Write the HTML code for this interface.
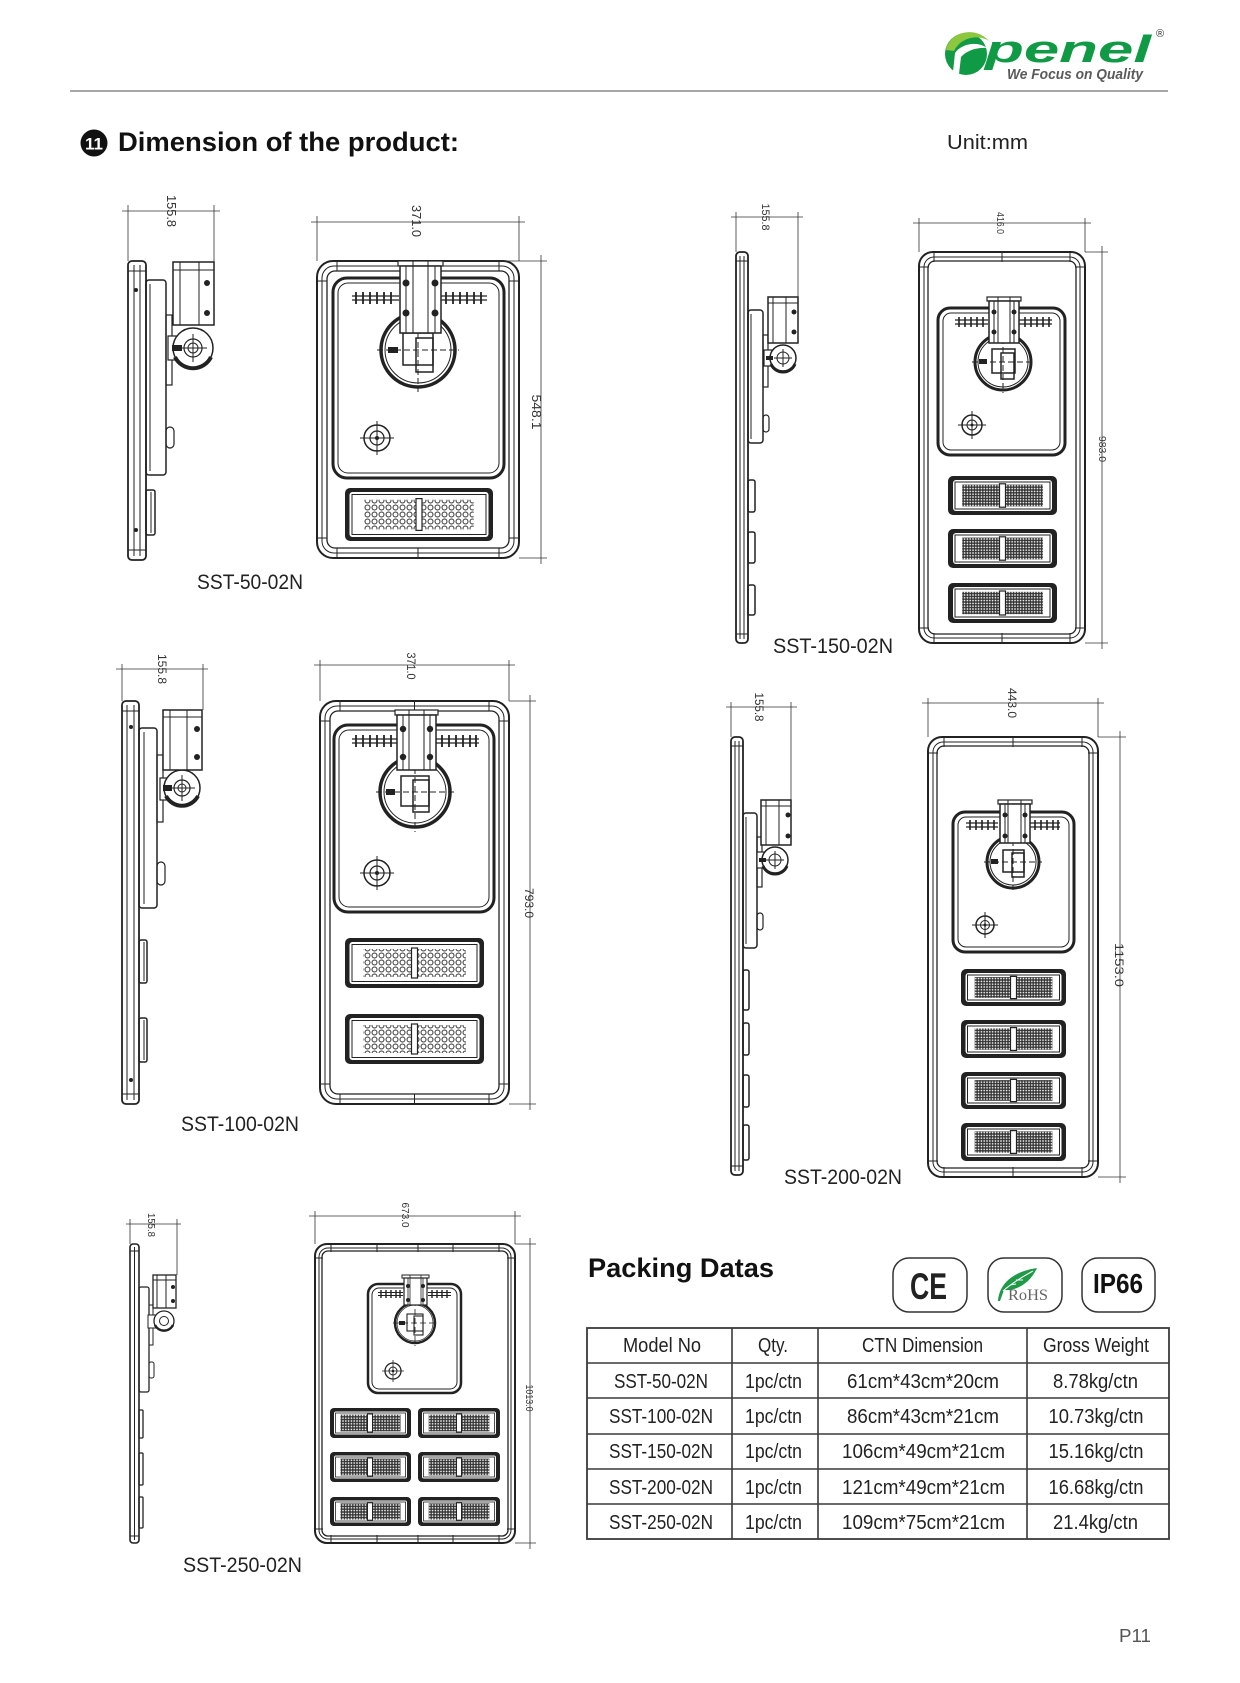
<!DOCTYPE html>
<html><head><meta charset="utf-8"><style>
html,body{margin:0;padding:0;background:#fff}
svg{display:block}
.s{fill:none;stroke:#222;stroke-width:1.5}
.w{fill:#fff;stroke:#222;stroke-width:1.5}
.th{fill:none;stroke:#222;stroke-width:1}
.d{fill:none;stroke:#333;stroke-width:0.8}
.f{fill:#222}
.dash{stroke-dasharray:6 3}
.tx{font-family:"Liberation Sans",Arial,sans-serif}
.dm{font-family:"Liberation Sans",Arial,sans-serif;fill:#333}
.lb{font-family:"Liberation Sans",Arial,sans-serif;font-size:21px;fill:#222}
.tb{font-family:"Liberation Sans",Arial,sans-serif;font-size:20px;fill:#222}
</style></head><body>
<svg width="1240" height="1683" viewBox="0 0 1240 1683" xmlns="http://www.w3.org/2000/svg">
<defs>
<pattern id="dL" width="7" height="7" patternUnits="userSpaceOnUse"><circle cx="3.5" cy="3.5" r="2.5" fill="none" stroke="#333" stroke-width="1"/></pattern>
<pattern id="dS" width="2.8" height="2.8" patternUnits="userSpaceOnUse"><rect width="2.8" height="2.8" fill="#333"/><circle cx="1.4" cy="1.4" r="0.85" fill="#fff"/></pattern>
</defs>
<rect width="1240" height="1683" fill="#fff"/>

<!-- LOGO -->
<circle cx="966" cy="54" r="21" fill="#119a45"/>
<path d="M946,50 C949,32 975,25 989,41 C978,34 961,37 954,51 Z" fill="#8dc63f"/>
<path d="M955,53 C962,43 978,41 987,48 C978,47 967,50 961,57 L959,74 L953,72 Z" fill="#fff"/>
<text class="tx" x="985" y="62" textLength="166" lengthAdjust="spacingAndGlyphs" style="font-size:38px;font-weight:bold;font-style:italic;fill:#119a45">penel</text>
<text class="tx" x="1007" y="79" textLength="136" lengthAdjust="spacingAndGlyphs" style="font-size:15px;font-weight:bold;font-style:italic;fill:#5a5a5a">We Focus on Quality</text>
<text class="tx" x="1156" y="37" style="font-size:11px;fill:#333">®</text>
<line x1="70" y1="91" x2="1168" y2="91" stroke="#8a8a8a" stroke-width="1.5"/>

<!-- TITLE -->
<circle cx="94" cy="143" r="13.5" fill="#111"/>
<text class="tx" x="94" y="149.5" text-anchor="middle" style="font-size:17px;font-weight:bold;fill:#fff">11</text>
<text class="tx" x="118" y="151" textLength="341" lengthAdjust="spacingAndGlyphs" style="font-size:27px;font-weight:bold;fill:#111">Dimension of the product:</text>
<text class="tx" x="947" y="149" textLength="81" lengthAdjust="spacingAndGlyphs" style="font-size:20px;fill:#222">Unit:mm</text>

<!-- ================= A: SST-50 ================= -->
<rect x="128" y="261" width="18" height="299" rx="4" class="s" style="stroke-width:1.8"/>
<path class="th" d="M134,265v291M140,265v291M128,271h18M128,550h18"/>
<circle cx="136" cy="290" r="2" class="f"/><circle cx="136" cy="530" r="2" class="f"/>
<rect x="146" y="280" width="20" height="195" rx="3" class="s"/>
<path class="th" d="M150,284v187"/>
<rect x="166" y="315" width="6" height="70" class="s" style="stroke-width:1.2"/>
<rect x="166" y="427" width="8" height="21" rx="4" class="s" style="stroke-width:1.2"/>
<rect x="146" y="490" width="9" height="45" rx="2" class="s"/><path class="th" d="M151,492v41"/>
<rect x="168" y="336" width="22" height="24" class="w" style="stroke-width:1.2"/>
<circle cx="193" cy="348" r="20" class="w"/>
<path d="M175,357 A20 20 0 0 0 211,357" class="s" style="stroke-width:4"/>
<circle cx="193" cy="348" r="9" class="s" style="stroke-width:1.2"/><circle cx="193" cy="348" r="5" class="th"/>
<path class="th" d="M193,334v28M179,348h28"/>
<rect x="172" y="345" width="10" height="6" class="f"/>
<rect x="173" y="262" width="41" height="63" class="w"/>
<path class="th" d="M173,270h41M180,262v63M199,262v63"/>
<circle cx="207" cy="283" r="3" class="f"/><circle cx="207" cy="313" r="3" class="f"/>
<path class="d" d="M122,211h98M128,205v56M214,205v57"/>
<text class="dm" transform="translate(167,211) rotate(90)" text-anchor="middle" textLength="32" lengthAdjust="spacingAndGlyphs" style="font-size:13px">155.8</text>
<rect x="317" y="261" width="202" height="297" rx="16" class="s" style="stroke-width:2"/>
<rect x="322" y="266" width="192" height="287" rx="12" class="th"/>
<rect x="327" y="271" width="182" height="277" rx="8" class="s" style="stroke-width:1.3"/>
<path class="th" d="M337,261v10M499,261v10M418,261v10M337,548v10M499,548v10M418,548v10M317,281h10M509,281h10M317,538h10M509,538h10"/>
<rect x="333" y="278" width="171" height="200" rx="14" class="s" style="stroke-width:3"/>
<rect x="338" y="283" width="161" height="190" rx="10" class="th"/>
<path class="s" style="stroke-width:1.3" d="M352,296h47M352,300h47M440,296h47M440,300h47"/>
<path class="s" style="stroke-width:1.8" d="M356,292v12M363,292v12M370,292v12M377,292v12M384,292v12M391,292v12M446,292v12M453,292v12M460,292v12M467,292v12M474,292v12M481,292v12"/>
<circle cx="418" cy="350" r="37" class="w" style="stroke-width:3.5"/>
<circle cx="418" cy="350" r="33" class="th"/>
<path class="th dash" d="M377,350h82M418,306v86"/>
<rect x="403" y="333" width="30" height="32" class="s"/>
<rect x="416" y="338" width="17" height="34" class="s"/>
<rect x="388" y="347" width="10" height="6" class="f"/>
<rect x="398" y="261" width="45" height="5" class="w" style="stroke-width:1.2"/>
<rect x="400" y="266" width="41" height="67" class="w"/>
<path class="th" d="M406,266v67M435,266v67"/>
<rect x="413" y="261" width="15" height="72" class="th"/>
<circle cx="406" cy="283" r="3.5" class="f"/><circle cx="435" cy="283" r="3.5" class="f"/><circle cx="406" cy="313" r="3.5" class="f"/><circle cx="435" cy="313" r="3.5" class="f"/>
<circle cx="377" cy="438" r="13" class="s"/><circle cx="377" cy="438" r="7" class="s" style="stroke-width:1.2"/><circle cx="377" cy="438" r="2" class="f"/>
<path class="th" d="M360,438h34M377,421v34"/>
<rect x="345" y="488" width="148" height="53" rx="5" class="f"/>
<rect x="349.5" y="492" width="139" height="45" rx="3" fill="#fff"/>
<rect x="352" y="494.5" width="134" height="40" class="th"/>
<rect x="364.2" y="499.7" width="109.5" height="29.7" fill="url(#dL)"/>
<rect x="416" y="498.6" width="6" height="31.8" class="w" style="stroke-width:1.2"/>
<path class="d" d="M311,222h214M317,216v45M519,216v45M541,255v309M443,261h104M519,558h28"/>
<text class="dm" transform="translate(412,221) rotate(90)" text-anchor="middle" textLength="32" lengthAdjust="spacingAndGlyphs" style="font-size:13px">371.0</text>
<text class="dm" transform="translate(532,412) rotate(90)" text-anchor="middle" textLength="35" lengthAdjust="spacingAndGlyphs" style="font-size:13px">548.1</text>
<text class="lb" x="197" y="589" textLength="106" lengthAdjust="spacingAndGlyphs">SST-50-02N</text>

<!-- ================= B: SST-150 ================= -->
<rect x="736" y="252" width="12" height="391" rx="4" class="s" style="stroke-width:1.8"/>
<path class="th" d="M740,256v383M744,256v383M736,261h12M736,634h12"/>
<rect x="748" y="310" width="15" height="133" rx="3" class="s"/>
<path class="th" d="M751,314v125"/>
<rect x="763" y="335" width="5" height="52" class="s" style="stroke-width:1.2"/>
<rect x="763" y="415" width="6" height="17" rx="3" class="s" style="stroke-width:1.2"/>
<rect x="748" y="480" width="7" height="32" rx="2" class="s"/>
<rect x="748" y="532" width="7" height="31" rx="2" class="s"/>
<rect x="748" y="585" width="7" height="30" rx="2" class="s"/>
<rect x="764" y="350" width="16" height="16" class="w" style="stroke-width:1.2"/>
<circle cx="783" cy="358" r="13" class="w"/>
<path d="M771,364 A13 13 0 0 0 795,364" class="s" style="stroke-width:3"/>
<circle cx="783" cy="358" r="6" class="th"/><path class="th" d="M783,349v18M774,358h18"/>
<rect x="766" y="356" width="7" height="4" class="f"/>
<rect x="768" y="297" width="30" height="46" class="w"/>
<path class="th" d="M768,303h30M773,297v46M786,297v46"/>
<circle cx="794" cy="312" r="2.5" class="f"/><circle cx="794" cy="332" r="2.5" class="f"/>
<path class="d" d="M731,217h72M736,212v40M798,212v85"/>
<text class="dm" transform="translate(762,217) rotate(90)" text-anchor="middle" textLength="27" lengthAdjust="spacingAndGlyphs" style="font-size:11px">155.8</text>
<rect x="919" y="252" width="166" height="391" rx="14" class="s" style="stroke-width:2"/>
<rect x="924" y="257" width="156" height="381" rx="10" class="th"/>
<rect x="928" y="261" width="148" height="373" rx="7" class="s" style="stroke-width:1.3"/>
<path class="th" d="M934,252v10M1070,252v10M1002,252v10M934,633v10M1070,633v10M1002,633v10M919,267h10M1075,267h10M919,628h10M1075,628h10"/>
<rect x="938" y="308" width="127" height="147" rx="12" class="s" style="stroke-width:3"/>
<rect x="943" y="313" width="117" height="137" rx="8" class="th"/>
<path class="s" style="stroke-width:1.2" d="M955,320h33M955,324h33M1019,320h33M1019,324h33"/>
<path class="s" style="stroke-width:1.6" d="M959,317v10M965,317v10M971,317v10M977,317v10M983,317v10M1025,317v10M1031,317v10M1037,317v10M1043,317v10M1049,317v10"/>
<circle cx="1003" cy="362" r="28" class="w" style="stroke-width:3"/>
<circle cx="1003" cy="362" r="25" class="th"/>
<path class="th dash" d="M972,362h62M1003,329v64"/>
<rect x="992" y="349" width="23" height="24" class="s"/>
<rect x="1001" y="353" width="13" height="26" class="s"/>
<rect x="979" y="359" width="8" height="5" class="f"/>
<rect x="987" y="297" width="34" height="4" class="w" style="stroke-width:1.2"/>
<rect x="989" y="301" width="30" height="42" class="w"/>
<path class="th" d="M994,301v42M1014,301v42"/>
<rect x="998" y="297" width="12" height="46" class="th"/>
<circle cx="994" cy="312" r="2.5" class="f"/><circle cx="1014" cy="312" r="2.5" class="f"/><circle cx="994" cy="332" r="2.5" class="f"/><circle cx="1014" cy="332" r="2.5" class="f"/>
<circle cx="972" cy="425" r="10" class="s"/><circle cx="972" cy="425" r="5" class="th"/><circle cx="972" cy="425" r="1.5" class="f"/>
<path class="th" d="M958,425h28M972,411v28"/>
<g>
<rect x="948" y="476" width="109" height="39" rx="5" class="f"/><rect x="953" y="480" width="99" height="31" rx="3" fill="#fff"/><rect x="955" y="482" width="95" height="27" class="th"/><rect x="962.2" y="484.6" width="80.7" height="21.8" fill="url(#dS)"/><rect x="999.5" y="483.8" width="6" height="23.4" class="w" style="stroke-width:1.2"/>
<rect x="948" y="529" width="109" height="39" rx="5" class="f"/><rect x="953" y="533" width="99" height="31" rx="3" fill="#fff"/><rect x="955" y="535" width="95" height="27" class="th"/><rect x="962.2" y="537.6" width="80.7" height="21.8" fill="url(#dS)"/><rect x="999.5" y="536.8" width="6" height="23.4" class="w" style="stroke-width:1.2"/>
<rect x="948" y="583" width="109" height="40" rx="5" class="f"/><rect x="953" y="587" width="99" height="32" rx="3" fill="#fff"/><rect x="955" y="589" width="95" height="28" class="th"/><rect x="962.2" y="591.8" width="80.7" height="22.4" fill="url(#dS)"/><rect x="999.5" y="591" width="6" height="24" class="w" style="stroke-width:1.2"/>
</g>
<path class="d" d="M913,223h178M919,218v34M1085,218v34M1102,246v403M1085,252h23M1085,643h23"/>
<text class="dm" transform="translate(997,223) rotate(90)" text-anchor="middle" textLength="22" lengthAdjust="spacingAndGlyphs" style="font-size:10px">416.0</text>
<text class="dm" transform="translate(1099,449) rotate(90)" text-anchor="middle" textLength="26" lengthAdjust="spacingAndGlyphs" style="font-size:10px">983.0</text>
<text class="lb" x="773" y="653" textLength="120" lengthAdjust="spacingAndGlyphs">SST-150-02N</text>

<!-- ================= C: SST-100 ================= -->
<rect x="122" y="701" width="17" height="403" rx="4" class="s" style="stroke-width:1.8"/>
<path class="th" d="M127,705v395M134,705v395M122,711h17M122,1094h17"/>
<circle cx="131" cy="727" r="2" class="f"/><circle cx="131" cy="1080" r="2" class="f"/>
<rect x="139" y="728" width="18" height="180" rx="3" class="s"/>
<path class="th" d="M144,732v172"/>
<rect x="157" y="755" width="6" height="67" class="s" style="stroke-width:1.2"/>
<rect x="157" y="862" width="8" height="23" rx="4" class="s" style="stroke-width:1.2"/>
<rect x="139" y="940" width="8" height="43" rx="2" class="s"/><path class="th" d="M144,942v39"/>
<rect x="139" y="1018" width="8" height="44" rx="2" class="s"/><path class="th" d="M144,1020v40"/>
<rect x="160" y="778" width="22" height="22" class="w" style="stroke-width:1.2"/>
<circle cx="182" cy="788" r="18" class="w"/>
<path d="M166,796 A18 18 0 0 0 198,796" class="s" style="stroke-width:4"/>
<circle cx="182" cy="788" r="8" class="s" style="stroke-width:1.2"/><circle cx="182" cy="788" r="4" class="th"/>
<path class="th" d="M182,775v26M169,788h26"/>
<rect x="163" y="785" width="9" height="6" class="f"/>
<rect x="163" y="710" width="39" height="60" class="w"/>
<path class="th" d="M163,717h39M170,710v60M187,710v60"/>
<circle cx="197" cy="729" r="3" class="f"/><circle cx="197" cy="757" r="3" class="f"/>
<path class="d" d="M116,669h92M122,664v37M203,664v46"/>
<text class="dm" transform="translate(158,669) rotate(90)" text-anchor="middle" textLength="30" lengthAdjust="spacingAndGlyphs" style="font-size:12px">155.8</text>
<rect x="320" y="701" width="189" height="403" rx="16" class="s" style="stroke-width:2"/>
<rect x="325" y="706" width="179" height="393" rx="12" class="th"/>
<rect x="330" y="711" width="169" height="383" rx="8" class="s" style="stroke-width:1.3"/>
<path class="th" d="M340,701v10M489,701v10M414.5,701v10M340,1094v10M489,1094v10M414.5,1094v10M320,721h10M499,721h10M320,1084h10M499,1084h10"/>
<rect x="334" y="725" width="160" height="187" rx="14" class="s" style="stroke-width:3"/>
<rect x="339" y="730" width="150" height="177" rx="10" class="th"/>
<path class="s" style="stroke-width:1.3" d="M352,739h45M352,743h45M435,739h44M435,743h44"/>
<path class="s" style="stroke-width:1.8" d="M356,735v12M363,735v12M370,735v12M377,735v12M384,735v12M391,735v12M442,735v12M449,735v12M456,735v12M463,735v12M470,735v12M476,735v12"/>
<circle cx="415" cy="792" r="35" class="w" style="stroke-width:3.5"/>
<circle cx="415" cy="792" r="31" class="th"/>
<path class="th dash" d="M376,792h78M415,750v82"/>
<rect x="401" y="776" width="28" height="30" class="s"/>
<rect x="413" y="780" width="16" height="32" class="s"/>
<rect x="386" y="789" width="9" height="6" class="f"/>
<rect x="395" y="710" width="43" height="5" class="w" style="stroke-width:1.2"/>
<rect x="397" y="715" width="39" height="55" class="w"/>
<path class="th" d="M403,715v55M430,715v55"/>
<rect x="409" y="710" width="15" height="60" class="th"/>
<circle cx="403" cy="729" r="3.2" class="f"/><circle cx="430" cy="729" r="3.2" class="f"/><circle cx="403" cy="757" r="3.2" class="f"/><circle cx="430" cy="757" r="3.2" class="f"/>
<circle cx="377" cy="873" r="13" class="s"/><circle cx="377" cy="873" r="7" class="s" style="stroke-width:1.2"/><circle cx="377" cy="873" r="2" class="f"/>
<path class="th" d="M360,873h34M377,856v34"/>
<rect x="345" y="938" width="139" height="50" rx="5" class="f"/><rect x="349.5" y="942" width="130" height="42" rx="3" fill="#fff"/><rect x="352" y="944.5" width="125" height="37" class="th"/><rect x="363.1" y="949" width="102.9" height="28" fill="url(#dL)"/><rect x="411.5" y="948" width="6" height="30" class="w" style="stroke-width:1.2"/>
<rect x="345" y="1014" width="139" height="50" rx="5" class="f"/><rect x="349.5" y="1018" width="130" height="42" rx="3" fill="#fff"/><rect x="352" y="1020.5" width="125" height="37" class="th"/><rect x="363.1" y="1025" width="102.9" height="28" fill="url(#dL)"/><rect x="411.5" y="1024" width="6" height="30" class="w" style="stroke-width:1.2"/>
<path class="d" d="M314,665h201M320,660v41M509,660v41M530,695v415M509,701h27M509,1104h27"/>
<text class="dm" transform="translate(407,666) rotate(90)" text-anchor="middle" textLength="27" lengthAdjust="spacingAndGlyphs" style="font-size:12px">371.0</text>
<text class="dm" transform="translate(525,903) rotate(90)" text-anchor="middle" textLength="30" lengthAdjust="spacingAndGlyphs" style="font-size:12px">793.0</text>
<text class="lb" x="181" y="1131" textLength="118" lengthAdjust="spacingAndGlyphs">SST-100-02N</text>

<!-- ================= D: SST-200 ================= -->
<rect x="731" y="737" width="12" height="438" rx="4" class="s" style="stroke-width:1.8"/>
<path class="th" d="M735,741v430M739,741v430M731,746h12M731,1166h12"/>
<rect x="743" y="813" width="14" height="135" rx="3" class="s"/>
<path class="th" d="M746,817v127"/>
<rect x="757" y="837" width="5" height="50" class="s" style="stroke-width:1.2"/>
<rect x="757" y="913" width="6" height="17" rx="3" class="s" style="stroke-width:1.2"/>
<rect x="743" y="970" width="6" height="40" rx="2" class="s"/>
<rect x="743" y="1023" width="6" height="32" rx="2" class="s"/>
<rect x="743" y="1075" width="6" height="32" rx="2" class="s"/>
<rect x="743" y="1125" width="6" height="35" rx="2" class="s"/>
<rect x="757" y="852" width="15" height="16" class="w" style="stroke-width:1.2"/>
<circle cx="775" cy="860" r="13" class="w"/>
<path d="M763,866 A13 13 0 0 0 787,866" class="s" style="stroke-width:3"/>
<circle cx="775" cy="860" r="6" class="th"/><path class="th" d="M775,851v18M766,860h18"/>
<rect x="759" y="858" width="7" height="4" class="f"/>
<rect x="761" y="800" width="30" height="45" class="w"/>
<path class="th" d="M761,806h30M766,800v45M779,800v45"/>
<circle cx="788" cy="815" r="2.5" class="f"/><circle cx="788" cy="836" r="2.5" class="f"/>
<path class="d" d="M726,707h71M731,702v35M791,702v98"/>
<text class="dm" transform="translate(755,707) rotate(90)" text-anchor="middle" textLength="29" lengthAdjust="spacingAndGlyphs" style="font-size:12px">155.8</text>
<rect x="928" y="737" width="170" height="440" rx="14" class="s" style="stroke-width:2"/>
<rect x="933" y="742" width="160" height="430" rx="10" class="th"/>
<rect x="937" y="746" width="152" height="422" rx="7" class="s" style="stroke-width:1.3"/>
<path class="th" d="M944,737v10M1082,737v10M1013,737v10M944,1167v10M1082,1167v10M1013,1167v10M928,753h10M1088,753h10M928,1161h10M1088,1161h10"/>
<rect x="953" y="812" width="121" height="140" rx="12" class="s" style="stroke-width:3"/>
<rect x="958" y="817" width="111" height="130" rx="8" class="th"/>
<path class="s" style="stroke-width:1.2" d="M966,823h32M966,827h32M1030,823h30M1030,827h30"/>
<path class="s" style="stroke-width:1.6" d="M970,820v10M976,820v10M982,820v10M988,820v10M994,820v10M1035,820v10M1041,820v10M1047,820v10M1053,820v10M1058,820v10"/>
<circle cx="1013" cy="862" r="26" class="w" style="stroke-width:3"/>
<circle cx="1013" cy="862" r="23" class="th"/>
<path class="th dash" d="M984,862h58M1013,831v59"/>
<rect x="1003" y="850" width="21" height="22" class="s"/>
<rect x="1012" y="853" width="12" height="24" class="s"/>
<rect x="991" y="859" width="7" height="5" class="f"/>
<rect x="998" y="800" width="34" height="4" class="w" style="stroke-width:1.2"/>
<rect x="1000" y="804" width="30" height="39" class="w"/>
<path class="th" d="M1005,804v39M1025,804v39"/>
<rect x="1008" y="800" width="13" height="43" class="th"/>
<circle cx="1005" cy="815" r="2.5" class="f"/><circle cx="1025" cy="815" r="2.5" class="f"/><circle cx="1005" cy="836" r="2.5" class="f"/><circle cx="1025" cy="836" r="2.5" class="f"/>
<circle cx="985" cy="925" r="9" class="s"/><circle cx="985" cy="925" r="4.5" class="th"/><circle cx="985" cy="925" r="1.5" class="f"/>
<path class="th" d="M972,925h26M985,912v26"/>
<rect x="961" y="969" width="105" height="37" rx="5" class="f"/><rect x="965.5" y="973" width="96" height="29" rx="3" fill="#fff"/><rect x="967.5" y="975" width="92" height="25" class="th"/><rect x="974.7" y="977.1" width="77.7" height="20.7" fill="url(#dS)"/><rect x="1010.5" y="976.4" width="6" height="22.2" class="w" style="stroke-width:1.2"/>
<rect x="961" y="1020" width="105" height="38" rx="5" class="f"/><rect x="965.5" y="1024" width="96" height="30" rx="3" fill="#fff"/><rect x="967.5" y="1026" width="92" height="26" class="th"/><rect x="974.7" y="1028.4" width="77.7" height="21.3" fill="url(#dS)"/><rect x="1010.5" y="1027.6" width="6" height="22.8" class="w" style="stroke-width:1.2"/>
<rect x="961" y="1072" width="105" height="37" rx="5" class="f"/><rect x="965.5" y="1076" width="96" height="29" rx="3" fill="#fff"/><rect x="967.5" y="1078" width="92" height="25" class="th"/><rect x="974.7" y="1080.1" width="77.7" height="20.7" fill="url(#dS)"/><rect x="1010.5" y="1079.4" width="6" height="22.2" class="w" style="stroke-width:1.2"/>
<rect x="961" y="1123" width="105" height="38" rx="5" class="f"/><rect x="965.5" y="1127" width="96" height="30" rx="3" fill="#fff"/><rect x="967.5" y="1129" width="92" height="26" class="th"/><rect x="974.7" y="1131.4" width="77.7" height="21.3" fill="url(#dS)"/><rect x="1010.5" y="1130.6" width="6" height="22.8" class="w" style="stroke-width:1.2"/>
<path class="d" d="M922,703h182M928,698v39M1098,698v39M1120,731v452M1098,737h28M1098,1177h28"/>
<text class="dm" transform="translate(1008,703) rotate(90)" text-anchor="middle" textLength="30" lengthAdjust="spacingAndGlyphs" style="font-size:12px">443.0</text>
<text class="dm" transform="translate(1115,965) rotate(90)" text-anchor="middle" textLength="44" lengthAdjust="spacingAndGlyphs" style="font-size:12px">1153.0</text>
<text class="lb" x="784" y="1184" textLength="118" lengthAdjust="spacingAndGlyphs">SST-200-02N</text>

<!-- ================= E: SST-250 ================= -->
<rect x="130" y="1244" width="9" height="299" rx="3" class="s" style="stroke-width:1.6"/>
<path class="th" d="M134.5,1247v293M130,1251h9M130,1536h9"/>
<rect x="139" y="1287" width="10" height="105" rx="2" class="s" style="stroke-width:1.3"/>
<rect x="149" y="1305" width="4" height="40" class="s" style="stroke-width:1"/>
<rect x="149" y="1362" width="5" height="16" rx="2" class="s" style="stroke-width:1"/>
<rect x="139" y="1410" width="4" height="28" rx="1" class="s" style="stroke-width:1.3"/>
<rect x="139" y="1453" width="4" height="32" rx="1" class="s" style="stroke-width:1.3"/>
<rect x="139" y="1497" width="4" height="31" rx="1" class="s" style="stroke-width:1.3"/>
<rect x="148" y="1315" width="12" height="13" class="w" style="stroke-width:1"/>
<circle cx="164" cy="1321" r="10" class="w" style="stroke-width:1.3"/>
<path d="M155,1325 A10 10 0 0 0 173,1325" class="s" style="stroke-width:2.5"/>
<circle cx="164" cy="1321" r="4.5" class="th"/>
<rect x="153" y="1275" width="23" height="33" class="w" style="stroke-width:1.3"/>
<path class="th" d="M153,1280h23M157,1275v33M166,1275v33"/>
<circle cx="173" cy="1287" r="2" class="f"/><circle cx="173" cy="1301" r="2" class="f"/>
<path class="d" d="M126,1224h55M130,1219v25M177,1219v56"/>
<text class="dm" transform="translate(148,1225) rotate(90)" text-anchor="middle" textLength="24" lengthAdjust="spacingAndGlyphs" style="font-size:10px">155.8</text>
<rect x="315" y="1244" width="200" height="299" rx="12" class="s" style="stroke-width:2"/>
<rect x="319" y="1248" width="192" height="291" rx="9" class="th"/>
<rect x="322" y="1251" width="186" height="285" rx="6" class="s" style="stroke-width:1.3"/>
<path class="th" d="M331,1244v8M499,1244v8M377,1244v8M418,1244v8M453,1244v8M331,1535v8M499,1535v8M377,1535v8M418,1535v8M453,1535v8M315,1258h8M507,1258h8M315,1529h8M507,1529h8"/>
<rect x="368" y="1284" width="93" height="109" rx="10" class="s" style="stroke-width:2.5"/>
<rect x="372" y="1288" width="85" height="101" rx="7" class="th"/>
<path class="s" style="stroke-width:1" d="M378,1292.5h25M378,1295.5h25M428,1292.5h23M428,1295.5h23"/>
<path class="s" style="stroke-width:1.4" d="M381,1290v8M386,1290v8M391,1290v8M396,1290v8M400,1290v8M432,1290v8M437,1290v8M442,1290v8M447,1290v8"/>
<circle cx="415" cy="1323" r="20" class="w" style="stroke-width:2.5"/>
<circle cx="415" cy="1323" r="18" class="th" style="stroke-width:0.7"/>
<path class="th dash" style="stroke-width:0.8" d="M393,1323h44M415,1300v46"/>
<rect x="407" y="1314" width="16" height="17" class="s" style="stroke-width:1.1"/>
<rect x="414" y="1316" width="9" height="19" class="s" style="stroke-width:1.1"/>
<rect x="399" y="1321" width="6" height="4" class="f"/>
<rect x="402" y="1275" width="27" height="3" class="w" style="stroke-width:1"/>
<rect x="404" y="1278" width="23" height="27" class="w" style="stroke-width:1.2"/>
<path class="th" style="stroke-width:0.8" d="M408,1278v27M423,1278v27"/>
<rect x="410" y="1275" width="11" height="30" class="th" style="stroke-width:0.8"/>
<circle cx="408" cy="1286" r="2" class="f"/><circle cx="423" cy="1286" r="2" class="f"/><circle cx="408" cy="1300" r="2" class="f"/><circle cx="423" cy="1300" r="2" class="f"/>
<circle cx="393" cy="1371" r="8" class="s" style="stroke-width:1.3"/><circle cx="393" cy="1371" r="4" class="th"/><circle cx="393" cy="1371" r="1.3" class="f"/>
<path class="th" style="stroke-width:0.8" d="M382,1371h22M393,1360v22"/>
<g>
<rect x="330" y="1408" width="81" height="30" rx="4" class="f"/><rect x="334" y="1411.5" width="73" height="23" rx="2" fill="#fff"/><rect x="335.5" y="1413" width="70" height="20" class="th" style="stroke-width:0.8"/><rect x="340.5" y="1414.6" width="60" height="16.8" fill="url(#dS)"/><rect x="367.5" y="1414" width="5" height="18" class="w" style="stroke-width:1"/>
<rect x="418" y="1408" width="82" height="30" rx="4" class="f"/><rect x="422" y="1411.5" width="74" height="23" rx="2" fill="#fff"/><rect x="423.5" y="1413" width="71" height="20" class="th" style="stroke-width:0.8"/><rect x="428.7" y="1414.6" width="60.7" height="16.8" fill="url(#dS)"/><rect x="456.5" y="1414" width="5" height="18" class="w" style="stroke-width:1"/>
<rect x="330" y="1452" width="81" height="30" rx="4" class="f"/><rect x="334" y="1455.5" width="73" height="23" rx="2" fill="#fff"/><rect x="335.5" y="1457" width="70" height="20" class="th" style="stroke-width:0.8"/><rect x="340.5" y="1458.6" width="60" height="16.8" fill="url(#dS)"/><rect x="367.5" y="1458" width="5" height="18" class="w" style="stroke-width:1"/>
<rect x="418" y="1452" width="82" height="30" rx="4" class="f"/><rect x="422" y="1455.5" width="74" height="23" rx="2" fill="#fff"/><rect x="423.5" y="1457" width="71" height="20" class="th" style="stroke-width:0.8"/><rect x="428.7" y="1458.6" width="60.7" height="16.8" fill="url(#dS)"/><rect x="456.5" y="1458" width="5" height="18" class="w" style="stroke-width:1"/>
<rect x="330" y="1497" width="81" height="29" rx="4" class="f"/><rect x="334" y="1500.5" width="73" height="22" rx="2" fill="#fff"/><rect x="335.5" y="1502" width="70" height="19" class="th" style="stroke-width:0.8"/><rect x="340.5" y="1503.4" width="60" height="16.2" fill="url(#dS)"/><rect x="367.5" y="1502.8" width="5" height="17.4" class="w" style="stroke-width:1"/>
<rect x="418" y="1497" width="82" height="29" rx="4" class="f"/><rect x="422" y="1500.5" width="74" height="22" rx="2" fill="#fff"/><rect x="423.5" y="1502" width="71" height="19" class="th" style="stroke-width:0.8"/><rect x="428.7" y="1503.4" width="60.7" height="16.2" fill="url(#dS)"/><rect x="456.5" y="1502.8" width="5" height="17.4" class="w" style="stroke-width:1"/>
</g>
<path class="d" d="M309,1216h212M315,1211v33M515,1211v33M530,1238v311M515,1244h21M515,1543h21"/>
<text class="dm" transform="translate(402,1215) rotate(90)" text-anchor="middle" textLength="25" lengthAdjust="spacingAndGlyphs" style="font-size:10px">673.0</text>
<text class="dm" transform="translate(526,1398) rotate(90)" text-anchor="middle" textLength="27" lengthAdjust="spacingAndGlyphs" style="font-size:10px">1013.0</text>
<text class="lb" x="183" y="1572" textLength="119" lengthAdjust="spacingAndGlyphs">SST-250-02N</text>

<!-- ================= PACKING ================= -->
<text class="tx" x="588" y="1277" textLength="186" lengthAdjust="spacingAndGlyphs" style="font-size:27px;font-weight:bold;fill:#111">Packing Datas</text>
<rect x="893" y="1258" width="74" height="54" rx="16" fill="#fff" stroke="#333" stroke-width="1.5"/>
<text class="tx" x="928.5" y="1299" text-anchor="middle" textLength="37" lengthAdjust="spacingAndGlyphs" style="font-size:37px;font-weight:bold;fill:#222">CE</text>
<rect x="988" y="1258" width="74" height="54" rx="16" fill="#fff" stroke="#333" stroke-width="1.5"/>
<path d="M998,1301 C999,1286 1010,1272 1037,1268 C1031,1281 1019,1291 1004,1290 L1000,1301 Z" fill="#1e9a48"/>
<path d="M1003,1291 C1012,1283 1022,1277 1033,1271 M1010,1285 l6,-1 M1016,1280 l7,0" stroke="#fff" stroke-width="1" fill="none"/>
<text x="1008" y="1300" textLength="40" lengthAdjust="spacingAndGlyphs" style="font-family:'Liberation Serif',serif;font-size:16px;fill:#666">RoHS</text>
<rect x="1082" y="1258" width="73" height="54" rx="16" fill="#fff" stroke="#333" stroke-width="1.5"/>
<text class="tx" x="1093" y="1293" textLength="50" lengthAdjust="spacingAndGlyphs" style="font-size:28px;font-weight:bold;fill:#111">IP66</text>

<rect x="587" y="1328" width="582" height="211" fill="none" stroke="#3a3a3a" stroke-width="1.8"/>
<path fill="none" stroke="#3a3a3a" stroke-width="1.6" d="M587,1363h582M587,1398h582M587,1434h582M587,1469h582M587,1504h582M732,1328v211M818,1328v211M1027,1328v211"/>
<g class="tb" text-anchor="middle">
<text x="662" y="1352" textLength="78" lengthAdjust="spacingAndGlyphs">Model No</text>
<text x="773" y="1352" textLength="30" lengthAdjust="spacingAndGlyphs">Qty.</text>
<text x="922.5" y="1352" textLength="121" lengthAdjust="spacingAndGlyphs">CTN Dimension</text>
<text x="1096" y="1352" textLength="106" lengthAdjust="spacingAndGlyphs">Gross Weight</text>

<text x="661" y="1388" textLength="94" lengthAdjust="spacingAndGlyphs">SST-50-02N</text>
<text x="773.5" y="1388" textLength="57" lengthAdjust="spacingAndGlyphs">1pc/ctn</text>
<text x="923" y="1388" textLength="152" lengthAdjust="spacingAndGlyphs">61cm*43cm*20cm</text>
<text x="1095.5" y="1388" textLength="85" lengthAdjust="spacingAndGlyphs">8.78kg/ctn</text>

<text x="661" y="1423" textLength="104" lengthAdjust="spacingAndGlyphs">SST-100-02N</text>
<text x="773.5" y="1423" textLength="57" lengthAdjust="spacingAndGlyphs">1pc/ctn</text>
<text x="923" y="1423" textLength="152" lengthAdjust="spacingAndGlyphs">86cm*43cm*21cm</text>
<text x="1096" y="1423" textLength="95" lengthAdjust="spacingAndGlyphs">10.73kg/ctn</text>

<text x="661" y="1458" textLength="104" lengthAdjust="spacingAndGlyphs">SST-150-02N</text>
<text x="773.5" y="1458" textLength="57" lengthAdjust="spacingAndGlyphs">1pc/ctn</text>
<text x="923.5" y="1458" textLength="163" lengthAdjust="spacingAndGlyphs">106cm*49cm*21cm</text>
<text x="1096" y="1458" textLength="95" lengthAdjust="spacingAndGlyphs">15.16kg/ctn</text>

<text x="661" y="1494" textLength="104" lengthAdjust="spacingAndGlyphs">SST-200-02N</text>
<text x="773.5" y="1494" textLength="57" lengthAdjust="spacingAndGlyphs">1pc/ctn</text>
<text x="923.5" y="1494" textLength="163" lengthAdjust="spacingAndGlyphs">121cm*49cm*21cm</text>
<text x="1096" y="1494" textLength="95" lengthAdjust="spacingAndGlyphs">16.68kg/ctn</text>

<text x="661" y="1529" textLength="104" lengthAdjust="spacingAndGlyphs">SST-250-02N</text>
<text x="773.5" y="1529" textLength="57" lengthAdjust="spacingAndGlyphs">1pc/ctn</text>
<text x="923.5" y="1529" textLength="163" lengthAdjust="spacingAndGlyphs">109cm*75cm*21cm</text>
<text x="1095.5" y="1529" textLength="85" lengthAdjust="spacingAndGlyphs">21.4kg/ctn</text>
</g>

<text class="tx" x="1119" y="1642" textLength="32" lengthAdjust="spacingAndGlyphs" style="font-size:18px;fill:#555">P11</text>
</svg>
</body></html>
